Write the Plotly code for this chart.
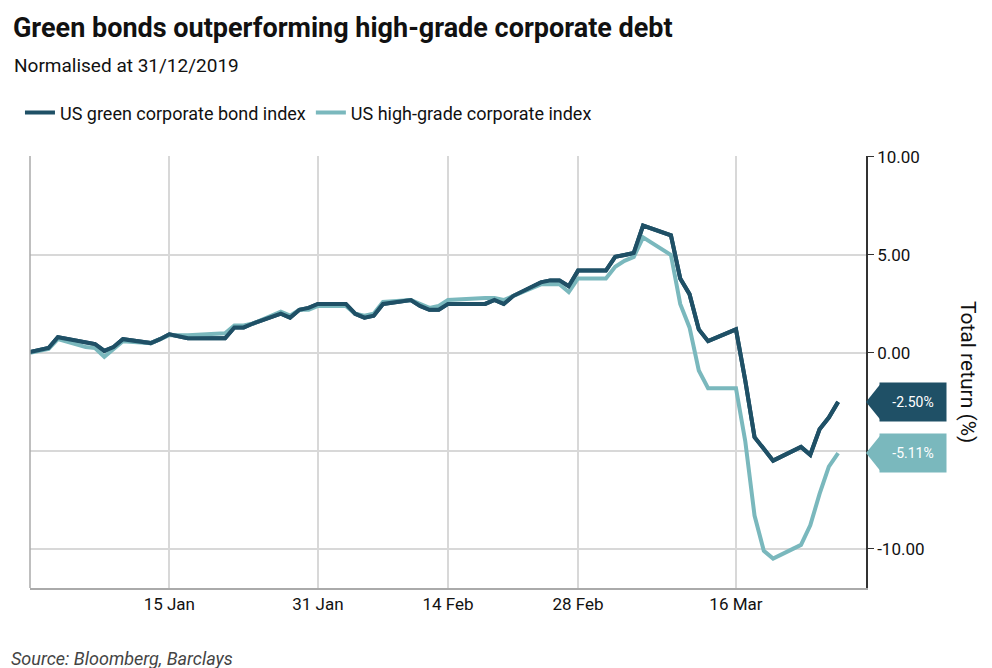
import pandas as pd
import plotly.graph_objects as go

dates = ["2019-12-31", "2020-01-02", "2020-01-03", "2020-01-06", "2020-01-07", "2020-01-08",
         "2020-01-09", "2020-01-10", "2020-01-13", "2020-01-14", "2020-01-15", "2020-01-16",
         "2020-01-17", "2020-01-21", "2020-01-22", "2020-01-23", "2020-01-24", "2020-01-27",
         "2020-01-28", "2020-01-29", "2020-01-30", "2020-01-31", "2020-02-03", "2020-02-04",
         "2020-02-05", "2020-02-06", "2020-02-07", "2020-02-10", "2020-02-11", "2020-02-12",
         "2020-02-13", "2020-02-14", "2020-02-18", "2020-02-19", "2020-02-20", "2020-02-21",
         "2020-02-24", "2020-02-25", "2020-02-26", "2020-02-27", "2020-02-28", "2020-03-02",
         "2020-03-03", "2020-03-04", "2020-03-05", "2020-03-06", "2020-03-09", "2020-03-10",
         "2020-03-11", "2020-03-12", "2020-03-13", "2020-03-16", "2020-03-17", "2020-03-18",
         "2020-03-19", "2020-03-20", "2020-03-23", "2020-03-24", "2020-03-25", "2020-03-26",
         "2020-03-27"]

green = [0.05, 0.25, 0.8, 0.5, 0.45, 0.1, 0.3, 0.7, 0.5, 0.7, 0.95, 0.85,
         0.75, 0.75, 1.3, 1.3, 1.5, 2.0, 1.8, 2.2, 2.3, 2.5, 2.5, 2.0,
         1.8, 1.9, 2.5, 2.7, 2.4, 2.2, 2.2, 2.5, 2.5, 2.7, 2.5, 2.9,
         3.6, 3.7, 3.7, 3.4, 4.2, 4.2, 4.9, 5.0, 5.1, 6.5, 6.0, 3.8,
         3.0, 1.2, 0.6, 1.2, -1.4, -4.3, -4.9, -5.5, -4.8, -5.2, -3.9, -3.3,
         -2.5]

high_grade = [0.0, 0.2, 0.7, 0.3, 0.25, -0.2, 0.2, 0.6, 0.5, 0.7, 0.9, 0.9,
              0.9, 1.0, 1.4, 1.4, 1.5, 2.1, 1.9, 2.2, 2.2, 2.4, 2.4, 2.0,
              1.9, 2.0, 2.6, 2.7, 2.5, 2.3, 2.4, 2.7, 2.8, 2.8, 2.7, 2.9,
              3.5, 3.5, 3.5, 3.1, 3.8, 3.8, 4.4, 4.7, 4.9, 5.9, 5.0, 2.5,
              1.3, -0.9, -1.8, -1.8, -4.5, -8.3, -10.1, -10.5, -9.8, -8.8, -7.2, -5.8,
              -5.11]

tick_dates = ["2020-01-15", "2020-01-31", "2020-02-14", "2020-02-28", "2020-03-16"]
tick_labels = ["15 Jan", "31 Jan", "14 Feb", "28 Feb", "16 Mar"]
y_ticks = [-10, -5, 0, 5, 10]
y_labels = ["-10.00", "", "0.00", "5.00", "10.00"]

dark = "#1f5066"
light = "#7ab8bd"
font = "Roboto"

fig = go.Figure()
fig.add_trace(go.Scatter(x=dates, y=green, mode="lines", name="US green corporate bond index",
                         line=dict(color=dark, width=4), legendrank=1, showlegend=True,
                         visible="legendonly" if False else True, opacity=0))
fig.add_trace(go.Scatter(x=dates, y=high_grade, mode="lines", name="US high-grade corporate index",
                         line=dict(color=light, width=4), legendrank=2))
fig.add_trace(go.Scatter(x=dates, y=green, mode="lines", showlegend=False,
                         line=dict(color=dark, width=4), hoverinfo="skip"))
fig.data[0].opacity = 1

fig.update_layout(
    width=992, height=668,
    paper_bgcolor="white", plot_bgcolor="white",
    font=dict(family=font, size=17, color="#111"),
    margin=dict(l=22, r=134, t=148, b=88),
    title=dict(text="<b>Green bonds outperforming high-grade corporate debt</b>",
               x=0.005, xanchor="left", y=0.985, yanchor="top",
               font=dict(size=27, color="#111")),
    legend=dict(orientation="h", x=-0.012, xanchor="left", y=1.10, yanchor="middle",
                font=dict(size=18)),
    showlegend=True,
)
fig.update_xaxes(range=["2019-12-31", "2020-03-30"], tickvals=tick_dates, ticktext=tick_labels,
                 showgrid=True, gridcolor="#d8d8d8", gridwidth=1.5,
                 showline=True, linecolor="#aaa", linewidth=1.5,
                 ticks="", tickfont=dict(size=17))
fig.update_yaxes(side="right", range=[-12.0, 10.05], tickvals=y_ticks, ticktext=y_labels,
                 showgrid=True, gridcolor="#d8d8d8", gridwidth=1.5, zeroline=False,
                 showline=True, linecolor="#333", linewidth=1.5,
                 ticks="outside", ticklen=6, tickcolor="#333",
                 tickfont=dict(size=17))
fig.add_shape(type="line", xref="paper", yref="paper", x0=0, x1=0, y0=0, y1=1,
              line=dict(color="#aaa", width=1.5))

fig.add_annotation(text="Total return (%)", xref="paper", yref="paper", x=1.122, y=0.5,
                   textangle=90, showarrow=False, font=dict(size=21),
                   xanchor="center", yanchor="middle")
fig.add_annotation(text="Normalised at 31/12/2019", xref="paper", yref="paper",
                   x=-0.022, y=1.21, xanchor="left", yanchor="middle", showarrow=False,
                   font=dict(size=19))
fig.add_annotation(text="<i>Source: Bloomberg, Barclays</i>", xref="paper", yref="paper",
                   x=-0.025, y=-0.135, xanchor="left", yanchor="top", showarrow=False,
                   font=dict(size=18, color="#444"))

for val, col in [(green[-1], dark), (high_grade[-1], light)]:
    fig.add_annotation(text=f"{val:.2f}%", xref="paper", yref="y", x=1.015, y=val,
                       xanchor="left", yanchor="middle", showarrow=False,
                       bgcolor=col, font=dict(size=14, color="white"),
                       width=62, height=34, borderpad=2)
    fig.add_shape(type="path", xref="paper", yref="y",
                  path=f"M 1.0,{val} L 1.017,{val + 0.9} L 1.017,{val - 0.9} Z",
                  fillcolor=col, line=dict(width=0))

fig.write_html("out.html")
